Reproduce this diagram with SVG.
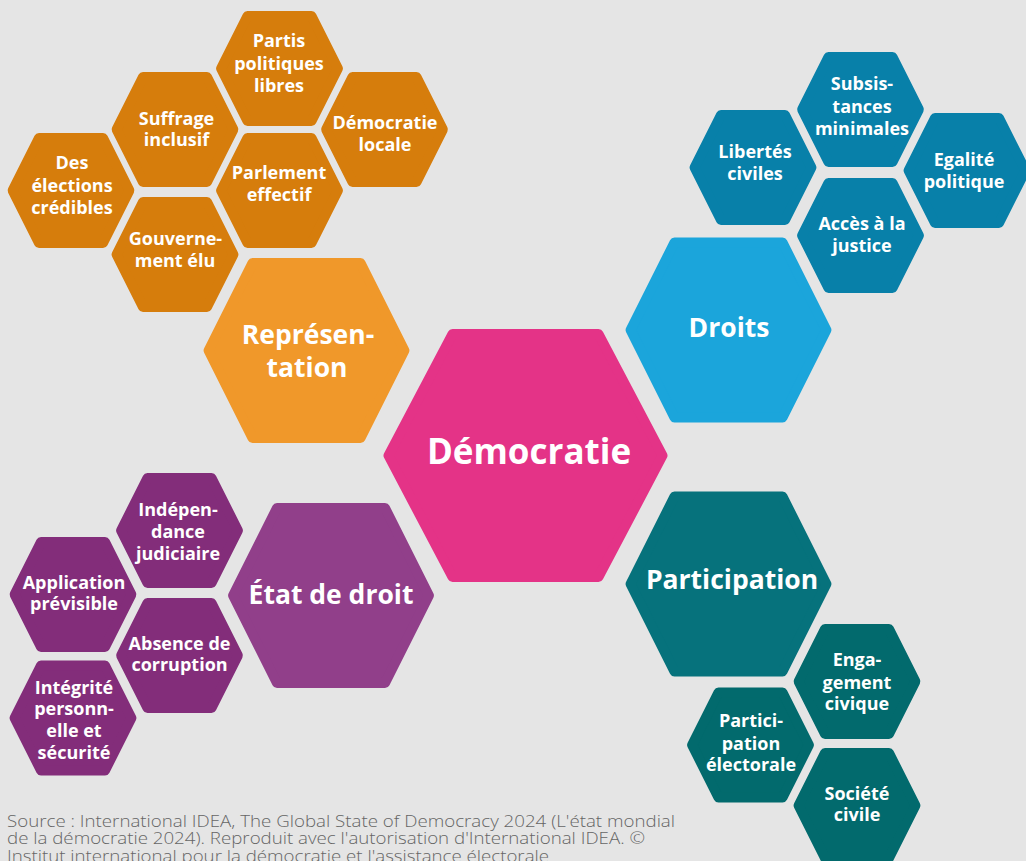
<svg xmlns="http://www.w3.org/2000/svg" xmlns:xlink="http://www.w3.org/1999/xlink" width="1026" height="861" viewBox="0 0 1026 861">
<style>
.hx{stroke-width:10;stroke-linejoin:round}
.o1{fill:#D67D0C;stroke:#D67D0C}
.o2{fill:#F0982A;stroke:#F0982A}
.pk{fill:#E43387;stroke:#E43387}
.b1{fill:#0880A9;stroke:#0880A9}
.b2{fill:#1BA5DB;stroke:#1BA5DB}
.p1{fill:#832D7A;stroke:#832D7A}
.p2{fill:#913F8A;stroke:#913F8A}
.t1{fill:#026A6D;stroke:#026A6D}
.t2{fill:#06727C;stroke:#06727C}
text{font-family:"Open Sans","Noto Sans","Liberation Sans",sans-serif;fill:#fff;font-weight:700;text-anchor:middle}
.s{font-size:18px}
.m{font-size:26.5px}
.l{font-size:35px}
.src{font-weight:300;fill:#666666;text-anchor:start;font-size:16px}
</style>
<defs>
<polygon id="hs" points="-58.4,0 -32,-52.5 32,-52.5 58.4,0 32,52.5 -32,52.5"/>
<polygon id="hm" points="-97.9,0 -54,-87.5 54,-87.5 97.9,0 54,87.5 -54,87.5"/>
<polygon id="hl" points="-137,0 -73,-121.5 73,-121.5 137,0 73,121.5 -73,121.5"/>
</defs>
<rect width="1026" height="861" fill="#E5E5E5"/>

<g id="democratie">
<use xlink:href="#hl" x="525.5" y="455.5" class="hx pk"/>
<text class="l" x="529" y="464">Démocratie</text>
</g>

<g id="representation">
<use xlink:href="#hm" x="306.5" y="350.5" class="hx o2"/>
<text class="m" x="308" y="344">Représen-</text>
<text class="m" x="307" y="377">tation</text>
</g>
<g id="droits">
<use xlink:href="#hm" x="728.5" y="330" class="hx b2"/>
<text class="m" x="729" y="337">Droits</text>
</g>
<g id="etat-de-droit">
<use xlink:href="#hm" x="331" y="595.5" class="hx p2"/>
<text class="m" x="331" y="604">État de droit</text>
</g>
<g id="participation">
<use xlink:href="#hm" x="728.5" y="584" class="hx t2"/>
<text class="m" x="732" y="589">Participation</text>
</g>

<g id="partis">
<use xlink:href="#hs" x="279.5" y="68.5" class="hx o1"/>
<text class="s" x="279" y="47">Partis</text>
<text class="s" x="279" y="69.5">politiques</text>
<text class="s" x="279" y="92">libres</text>
</g>
<g id="suffrage">
<use xlink:href="#hs" x="175" y="129.5" class="hx o1"/>
<text class="s" x="176.5" y="124.5">Suffrage</text>
<text class="s" x="176.5" y="146">inclusif</text>
</g>
<g id="democratie-locale">
<use xlink:href="#hs" x="384.5" y="129.5" class="hx o1"/>
<text class="s" x="385" y="129">Démocratie</text>
<text class="s" x="385" y="151">locale</text>
</g>
<g id="elections">
<use xlink:href="#hs" x="71" y="190.5" class="hx o1"/>
<text class="s" x="72" y="169">Des</text>
<text class="s" x="72" y="192">élections</text>
<text class="s" x="72" y="214">crédibles</text>
</g>
<g id="parlement">
<use xlink:href="#hs" x="279.5" y="190.5" class="hx o1"/>
<text class="s" x="279" y="179">Parlement</text>
<text class="s" x="279" y="201">effectif</text>
</g>
<g id="gouvernement">
<use xlink:href="#hs" x="175" y="254.5" class="hx o1"/>
<text class="s" x="175.5" y="245">Gouverne-</text>
<text class="s" x="175" y="267">ment élu</text>
</g>

<g id="subsistances">
<use xlink:href="#hs" x="860.5" y="109.5" class="hx b1"/>
<text class="s" x="862" y="90">Subsis-</text>
<text class="s" x="862" y="112.5">tances</text>
<text class="s" x="862" y="134.5">minimales</text>
</g>
<g id="libertes">
<use xlink:href="#hs" x="753" y="167.5" class="hx b1"/>
<text class="s" x="755" y="158">Libertés</text>
<text class="s" x="755" y="180">civiles</text>
</g>
<g id="egalite">
<use xlink:href="#hs" x="967" y="170.5" class="hx b1"/>
<text class="s" x="964" y="166">Egalité</text>
<text class="s" x="964" y="188">politique</text>
</g>
<g id="acces-justice">
<use xlink:href="#hs" x="860.5" y="235.5" class="hx b1"/>
<text class="s" x="862" y="230">Accès à la</text>
<text class="s" x="862" y="251.5">justice</text>
</g>

<g id="independance">
<use xlink:href="#hs" x="179.5" y="530.5" class="hx p1"/>
<text class="s" x="178" y="516">Indépen-</text>
<text class="s" x="178" y="538">dance</text>
<text class="s" x="178" y="559.5">judiciaire</text>
</g>
<g id="application">
<use xlink:href="#hs" x="73" y="594.5" class="hx p1"/>
<text class="s" x="74" y="588.5">Application</text>
<text class="s" x="74" y="610">prévisible</text>
</g>
<g id="absence-corruption">
<use xlink:href="#hs" x="179.5" y="655.5" class="hx p1"/>
<text class="s" x="179.5" y="649.5">Absence de</text>
<text class="s" x="179.5" y="671">corruption</text>
</g>
<g id="integrite">
<use xlink:href="#hs" x="73" y="718" class="hx p1"/>
<text class="s" x="74" y="693.5">Intégrité</text>
<text class="s" x="74" y="715">personn-</text>
<text class="s" x="74" y="737">elle et</text>
<text class="s" x="74" y="758.5">sécurité</text>
</g>

<g id="engagement">
<use xlink:href="#hs" x="857" y="681.5" class="hx t1"/>
<text class="s" x="857" y="666">Enga-</text>
<text class="s" x="857" y="689">gement</text>
<text class="s" x="857" y="710">civique</text>
</g>
<g id="participation-electorale">
<use xlink:href="#hs" x="750.5" y="745" class="hx t1"/>
<text class="s" x="751" y="727">Partici-</text>
<text class="s" x="751" y="749.5">pation</text>
<text class="s" x="751" y="771">électorale</text>
</g>
<g id="societe-civile">
<use xlink:href="#hs" x="857" y="805.5" class="hx t1"/>
<text class="s" x="857" y="800">Société</text>
<text class="s" x="857" y="821">civile</text>
</g>

<g id="source">
<text class="src" x="7" y="827" textLength="668" lengthAdjust="spacingAndGlyphs">Source : International IDEA, The Global State of Democracy 2024 (L'état mondial</text>
<text class="src" x="7" y="844" textLength="638" lengthAdjust="spacingAndGlyphs">de la démocratie 2024). Reproduit avec l'autorisation d'International IDEA. ©</text>
<text class="src" x="7" y="862" textLength="542" lengthAdjust="spacingAndGlyphs">Institut international pour la démocratie et l'assistance électorale</text>
</g>
</svg>
